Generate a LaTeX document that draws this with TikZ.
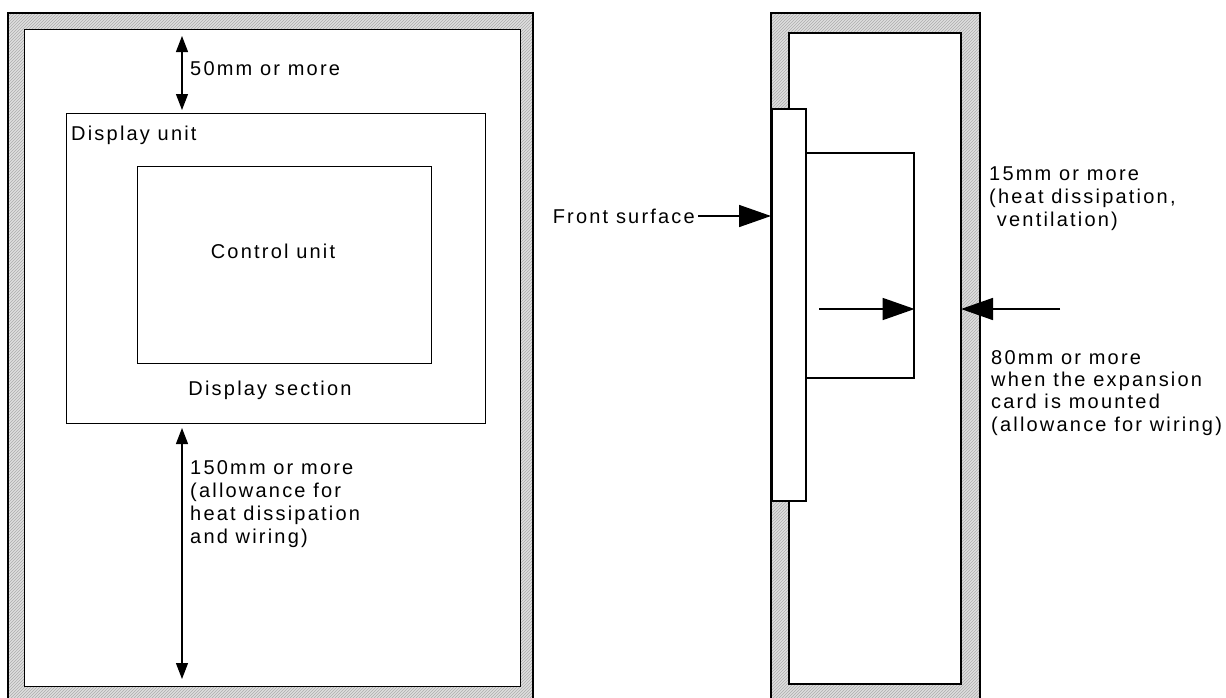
\documentclass[tikz,border=0pt]{standalone}
\usepackage{fontspec}
\setmainfont[LetterSpace=11]{Liberation Sans}
\usetikzlibrary{arrows.meta,patterns}
\begin{document}
\begin{tikzpicture}[x=1pt,y=-1pt,
  lbl/.style={inner sep=0pt,font=\fontsize{20}{23}\selectfont},
  hatchbase/.style={fill=gray!25,even odd rule},
  hatchlines/.style={pattern=north east lines,pattern color=gray!65,even odd rule},
  thinbox/.style={draw,line width=1pt,fill=white,inner sep=0pt,anchor=north west},
  thickbox/.style={draw,line width=1.8pt,fill=white,inner sep=0pt,anchor=north west},
  dimarrow/.style={line width=1.2pt,{Triangle[length=16pt,width=12pt]}-{Triangle[length=16pt,width=12pt]}},
  bigarrow/.style={line width=1.6pt,-{Triangle[length=32pt,width=22pt]}}
]
\useasboundingbox (0,0) rectangle (1226,697);
% ---- left panel (front view) ----
\fill[hatchbase] (8,13) rectangle (533,700) (24,29) rectangle (520,686);
\fill[hatchlines] (8,13) rectangle (533,700) (24,29) rectangle (520,686);
\draw[line width=1.3pt] (8,700) -- (8,13) -- (533,13) -- (533,700);
\draw[line width=1pt] (24,29) rectangle (520,686);
\node[thinbox,minimum width=419pt,minimum height=310pt] (disp) at (66,113) {};
\node[thinbox,minimum width=294pt,minimum height=197pt] (ctrl) at (137,166) {};
\node[lbl,anchor=base west] (tdisp) at (71,140) {Display unit};
\node[lbl,anchor=base] (tctrl) at (273,258) {Control unit};
\node[lbl,anchor=base] (tsect) at (270,395) {Display section};
\coordinate (a1) at (182,36);
\coordinate (a2) at (182,110);
\draw[dimarrow] (a1) -- (a2);
\node[lbl,anchor=base west] (t50) at (190,75) {50mm or more};
\coordinate (b1) at (182,428);
\coordinate (b2) at (182,679);
\draw[dimarrow] (b1) -- (b2);
\node[lbl,anchor=base west] (t150a) at (190,474) {150mm or more};
\node[lbl,anchor=base west] (t150b) at (190,497) {(allowance for};
\node[lbl,anchor=base west] (t150c) at (190,520) {heat dissipation};
\node[lbl,anchor=base west] (t150d) at (190,543) {and wiring)};
% ---- right panel (side view) ----
\fill[hatchbase] (771,13) rectangle (980,700) (789,33) rectangle (961,684);
\fill[hatchlines] (771,13) rectangle (980,700) (789,33) rectangle (961,684);
\draw[line width=2pt] (771,700) -- (771,13) -- (980,13) -- (980,700);
\draw[line width=2pt] (789,33) rectangle (961,684);
\node[thickbox,minimum width=34pt,minimum height=392pt] (plate) at (771,108) {};
\node[thickbox,line width=1.6pt,minimum width=108pt,minimum height=225pt] (card) at (805,152) {};
\node[lbl,anchor=base east] (tfront) at (695,223) {Front surface};
\coordinate (f1) at (698,216);
\draw[bigarrow] (f1) -- (plate.west |- f1);
\coordinate (c1) at (819,309);
\draw[bigarrow] (c1) -- (card.east |- c1);
\coordinate (w1) at (1060,309);
\coordinate (w2) at (961,309);
\draw[bigarrow] (w1) -- (w2);
\node[lbl,anchor=base west] (t15a) at (989,180) {15mm or more};
\node[lbl,anchor=base west] (t15b) at (989,203) {(heat dissipation,};
\node[lbl,anchor=base west] (t15c) at (989,226) {\ ventilation)};
\node[lbl,anchor=base west] (t80a) at (991,364) {80mm or more};
\node[lbl,anchor=base west] (t80b) at (991,386) {when the expansion};
\node[lbl,anchor=base west] (t80c) at (991,408) {card is mounted};
\node[lbl,anchor=base west] (t80d) at (991,431) {(allowance for wiring)};
\end{tikzpicture}
\end{document}
